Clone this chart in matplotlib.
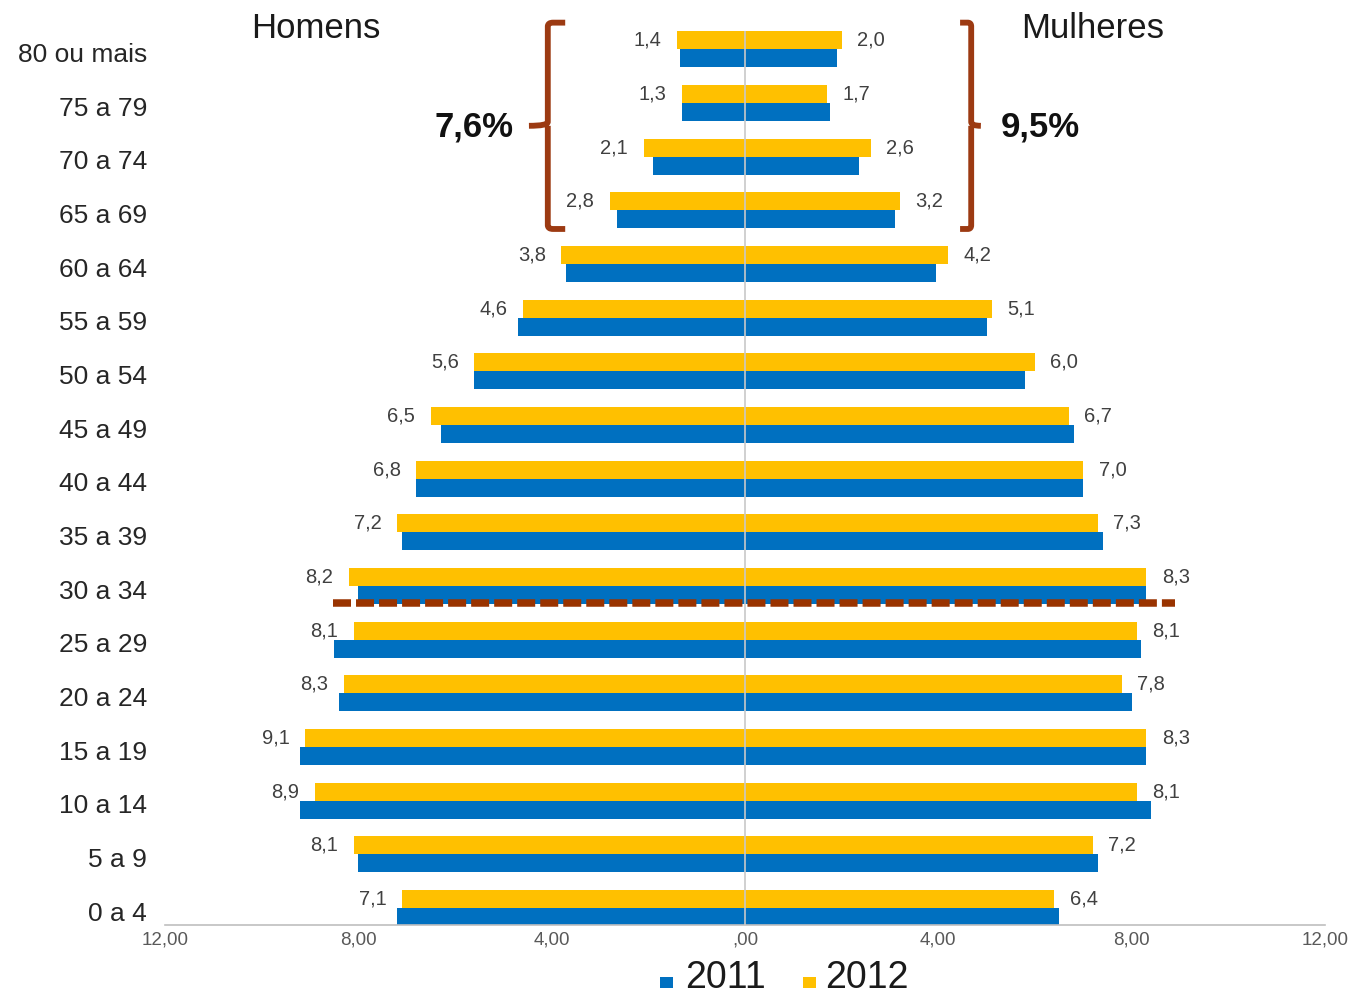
import matplotlib
matplotlib.use("Agg")
import matplotlib.pyplot as plt
import matplotlib.transforms as mtransforms
from matplotlib.patches import Rectangle, PathPatch
from matplotlib.path import Path

# Age groups, bottom to top
age_groups = ["0 a 4", "5 a 9", "10 a 14", "15 a 19", "20 a 24", "25 a 29",
              "30 a 34", "35 a 39", "40 a 44", "45 a 49", "50 a 54", "55 a 59",
              "60 a 64", "65 a 69", "70 a 74", "75 a 79", "80 ou mais"]

# Share of population (%) by sex and year
men_2012 = [7.1, 8.1, 8.9, 9.1, 8.3, 8.1, 8.2, 7.2, 6.8, 6.5, 5.6, 4.6, 3.8, 2.8, 2.1, 1.3, 1.4]
men_2011 = [7.2, 8.0, 9.2, 9.2, 8.4, 8.5, 8.0, 7.1, 6.8, 6.3, 5.6, 4.7, 3.7, 2.65, 1.9, 1.3, 1.35]
women_2012 = [6.4, 7.2, 8.1, 8.3, 7.8, 8.1, 8.3, 7.3, 7.0, 6.7, 6.0, 5.1, 4.2, 3.2, 2.6, 1.7, 2.0]
women_2011 = [6.5, 7.3, 8.4, 8.3, 8.0, 8.2, 8.3, 7.4, 7.0, 6.8, 5.8, 5.0, 3.95, 3.1, 2.35, 1.75, 1.9]

x_ticks = [-12, -8, -4, 0, 4, 8, 12]
x_tick_labels = ["12,00", "8,00", "4,00", ",00", "4,00", "8,00", "12,00"]

elderly_men = "7,6%"
elderly_women = "9,5%"

BLUE = "#0070C0"
YELLOW = "#FFC000"
BROWN = "#9C3A12"

plt.rcParams["font.family"] = ["Liberation Sans", "DejaVu Sans"]

W, H = 1353, 996
fig = plt.figure(figsize=(W / 100, H / 100), dpi=100)
ax = fig.add_axes([165 / W, 71 / H, 1160 / W, 925 / H])

n = len(age_groups)
ypos = list(range(n))
bh = 0.335

ax.barh([y + bh / 2 for y in ypos], [-v for v in men_2012], height=bh, color=YELLOW, zorder=2)
ax.barh([y - bh / 2 for y in ypos], [-v for v in men_2011], height=bh, color=BLUE, zorder=2)
ax.barh([y + bh / 2 for y in ypos], women_2012, height=bh, color=YELLOW, zorder=2)
ax.barh([y - bh / 2 for y in ypos], women_2011, height=bh, color=BLUE, zorder=2)


def fmt(v):
    return f"{v:.1f}".replace(".", ",")


for y, m, w in zip(ypos, men_2012, women_2012):
    ax.text(-m - 0.32, y + bh / 2, fmt(m), ha="right", va="center",
            fontsize=14.5, color="#404040")
    ax.text(w + 0.32, y + bh / 2, fmt(w), ha="left", va="center",
            fontsize=14.5, color="#404040")

ax.set_xlim(-12, 12)
ax.set_ylim(-0.316, 16.922)

# central axis line
ax.vlines(0, -0.316, 16.35, color="#C8C8C8", lw=1.2, zorder=3)

# dashed separator between 25-29 and 30-34
ax.plot([-8.52, 8.90], [5.69, 5.69], color="#993300", lw=5.4,
        dashes=(2.4, 0.67), solid_capstyle="butt", dash_capstyle="butt", zorder=4)

ax.set_xticks(x_ticks)
ax.set_xticklabels(x_tick_labels, fontsize=13.5, color="#595959")
ax.tick_params(axis="x", length=0, pad=5)
ax.set_yticks(ypos)
ax.set_yticklabels(age_groups, fontsize=19, color="#262626")
ax.tick_params(axis="y", length=0, pad=13)
shift = mtransforms.ScaledTranslation(0, -3 / 100, fig.dpi_scale_trans)
for lbl in ax.get_yticklabels():
    lbl.set_transform(lbl.get_transform() + shift)
for s in ["top", "right", "left"]:
    ax.spines[s].set_visible(False)
ax.spines["bottom"].set_color("#BFBFBF")
ax.spines["bottom"].set_linewidth(1.2)

ax.text(-8.88, 16.21, "Homens", ha="center", va="baseline", fontsize=25, color="#1a1a1a")
ax.text(7.2, 16.21, "Mulheres", ha="center", va="baseline", fontsize=25, color="#1a1a1a")


# curly braces grouping the 65+ age groups
def brace(x_spine, x_hook, x_tip, y0, y1):
    ym = (y0 + y1) / 2
    d = 0.07
    dx = (x_hook - x_spine)
    verts = [
        (x_hook, y1), (x_spine + dx * 0.3, y1), (x_spine, y1), (x_spine, y1 - d),
        (x_spine, ym + d), (x_spine, ym), (x_tip, ym),
        (x_spine, ym), (x_spine, ym - d),
        (x_spine, y0 + d), (x_spine, y0), (x_spine + dx * 0.3, y0), (x_hook, y0),
    ]
    codes = [Path.MOVETO, Path.LINETO, Path.CURVE3, Path.CURVE3,
             Path.LINETO, Path.CURVE3, Path.CURVE3,
             Path.MOVETO, Path.LINETO,
             Path.LINETO, Path.CURVE3, Path.CURVE3, Path.LINETO]
    ax.add_patch(PathPatch(Path(verts, codes), fill=False, edgecolor=BROWN, lw=4.2,
                           capstyle="butt", joinstyle="round", zorder=4))


brace(-4.08, -3.72, -4.47, 12.655, 16.50)
brace(4.68, 4.45, 4.88, 12.655, 16.50)

ax.text(-5.61, 14.37, elderly_men, ha="center", va="baseline", fontsize=25,
        fontweight="bold", color="#111111")
ax.text(6.12, 14.37, elderly_women, ha="center", va="baseline", fontsize=25,
        fontweight="bold", color="#111111")


# legend
def px(x, y):
    return x / W, 1 - y / H


for (sx, tx, col, lab) in [(660, 685, BLUE, "2011"), (803, 825, YELLOW, "2012")]:
    fx, fy = px(sx, 988)
    fig.add_artist(Rectangle((fx, fy), 13 / W, 11 / H, transform=fig.transFigure,
                             color=col, lw=0))
    tx_, ty_ = px(tx, 988)
    fig.text(tx_, ty_, lab, ha="left", va="baseline", fontsize=27, color="#1a1a1a")

fig.savefig("out.png", dpi=100)
